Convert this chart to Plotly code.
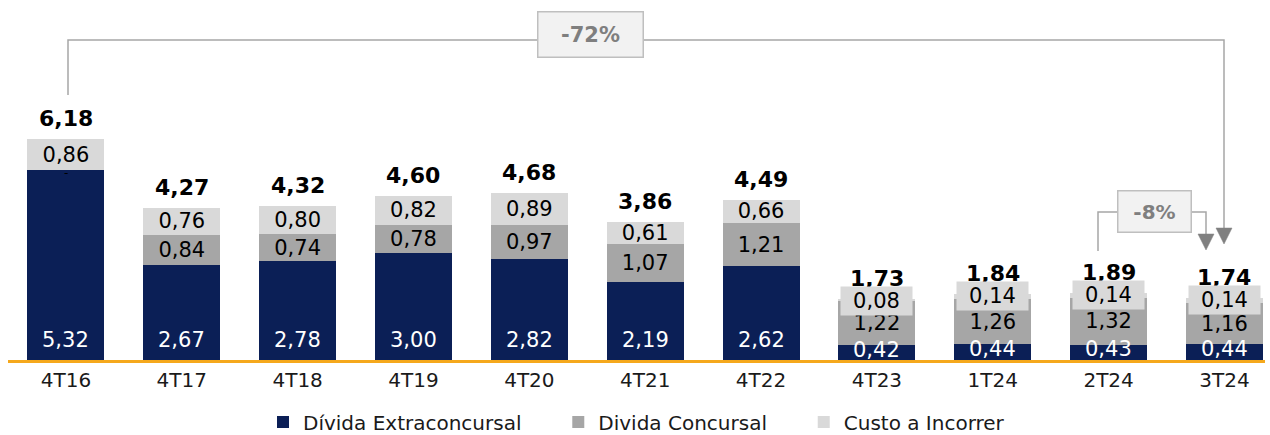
import plotly.graph_objects as go

categories = ["4T16", "4T17", "4T18", "4T19", "4T20", "4T21", "4T22", "4T23", "1T24", "2T24", "3T24"]
extra = [5.32, 2.67, 2.78, 3.00, 2.82, 2.19, 2.62, 0.42, 0.44, 0.43, 0.44]
concursal = [0.00, 0.84, 0.74, 0.78, 0.97, 1.07, 1.21, 1.22, 1.26, 1.32, 1.16]
custo = [0.86, 0.76, 0.80, 0.82, 0.89, 0.61, 0.66, 0.08, 0.14, 0.14, 0.14]
totals = [6.18, 4.27, 4.32, 4.60, 4.68, 3.86, 4.49, 1.73, 1.84, 1.89, 1.74]
series_names = ["Dívida Extraconcursal", "Divida Concursal", "Custo a Incorrer"]
change_labels = ["-72%", "-8%"]

NAVY = "#0b1f56"
GRAY = "#a6a6a6"
LIGHT = "#d9d9d9"
FONT = "DejaVu Sans"
LS = 21
PAD = "\u00a0" * 5

def fmt(v):
    return f"{v:.2f}".replace(".", ",")

W, H = 1270, 435
ML, MR, MT, MB = 8, 5, 0, 75
XR = [-0.5, 10.35]
YR = [0, 360 / 35.7]
pxx = (W - ML - MR) / (XR[1] - XR[0])
pxy = (H - MT - MB) / (YR[1] - YR[0])

def X(px):
    return XR[0] + (px - ML) / pxx

def Y(py):
    return YR[0] + (H - MB - py) / pxy

idx = list(range(len(categories)))

fig = go.Figure()
fig.add_trace(go.Bar(
    x=idx, y=extra, name=series_names[0] + PAD, marker=dict(color=NAVY, line=dict(width=0)),
    hoverinfo="skip"))
fig.add_trace(go.Bar(
    x=idx, y=concursal, name=series_names[1] + PAD, marker=dict(color=GRAY, line=dict(width=0)),
    text=[fmt(v) if v > 0 else "" for v in concursal], textposition="inside", insidetextanchor="middle",
    textfont=dict(color="black", size=LS, family=FONT), cliponaxis=False,
    hoverinfo="skip"))
fig.add_trace(go.Bar(
    x=idx, y=custo, name=series_names[2], marker=dict(color=LIGHT, line=dict(width=0)),
    text=[fmt(v) if v >= 0.3 else "" for v in custo], textposition="inside", insidetextanchor="middle",
    textfont=dict(color="black", size=LS, family=FONT), cliponaxis=False,
    hoverinfo="skip"))

annotations = []
for i in idx:
    top = extra[i] + concursal[i] + custo[i]
    if extra[i] >= 0.8:
        annotations.append(dict(x=i, y=0, text=fmt(extra[i]), showarrow=False, yanchor="bottom",
                                yshift=6, font=dict(size=LS, color="white", family=FONT)))
    else:
        annotations.append(dict(x=i, y=extra[i] / 2, text=fmt(extra[i]), showarrow=False,
                                yanchor="middle", yshift=3, font=dict(size=LS, color="white", family=FONT)))
    annotations.append(dict(x=i, y=top, text=f"<b>{fmt(totals[i])}</b>", showarrow=False,
                            yanchor="bottom", yshift=6, font=dict(size=22, color="black", family=FONT)))
    if custo[i] < 0.3:
        annotations.append(dict(x=i, y=top, text=fmt(custo[i]), showarrow=False, yanchor="middle",
                                yshift=-2, width=69, height=26, bgcolor=LIGHT,
                                font=dict(size=LS, color="black", family=FONT)))
    if concursal[i] == 0:
        annotations.append(dict(x=i, y=extra[i], text="-", showarrow=False, yanchor="middle",
                                yshift=-3, font=dict(size=12, color="black", family=FONT)))

annotations.append(dict(x=X(590), y=Y(34.5), text=f"<b>{change_labels[0]}</b>", showarrow=False,
                        width=102, height=42, bgcolor="#f2f2f2", bordercolor="#bfbfbf", borderwidth=1.5,
                        font=dict(size=21, color="#7f7f7f", family=FONT)))
annotations.append(dict(x=X(1154), y=Y(211.5), text=f"<b>{change_labels[1]}</b>", showarrow=False,
                        width=70, height=38, bgcolor="#f2f2f2", bordercolor="#bfbfbf", borderwidth=1.5,
                        font=dict(size=20, color="#7f7f7f", family=FONT)))

LC = "#a6a6a6"
AC = "#808080"
shapes = [
    dict(type="path", xref="x", yref="y",
         path=f"M {X(68)},{Y(95)} L {X(68)},{Y(40)} L {X(1224)},{Y(40)} L {X(1224)},{Y(230)}",
         line=dict(color=LC, width=1.5)),
    dict(type="path", xref="x", yref="y",
         path=f"M {X(1216)},{Y(228)} L {X(1232)},{Y(228)} L {X(1224)},{Y(244)} Z",
         fillcolor=AC, line=dict(color=AC, width=0.5)),
    dict(type="path", xref="x", yref="y",
         path=f"M {X(1098)},{Y(251)} L {X(1098)},{Y(212)} L {X(1206)},{Y(212)} L {X(1206)},{Y(236)}",
         line=dict(color=LC, width=1.5)),
    dict(type="path", xref="x", yref="y",
         path=f"M {X(1198)},{Y(234)} L {X(1214)},{Y(234)} L {X(1206)},{Y(250)} Z",
         fillcolor=AC, line=dict(color=AC, width=0.5)),
]

fig.update_layout(
    width=W, height=H, barmode="stack", bargap=0.335,
    margin=dict(l=ML, r=MR, t=MT, b=MB, autoexpand=False),
    paper_bgcolor="white", plot_bgcolor="white",
    font=dict(family=FONT, color="black"),
    uniformtext=dict(minsize=LS, mode="show"),
    xaxis=dict(range=XR, tickmode="array", tickvals=idx, ticktext=categories, automargin=False,
               showline=True, linecolor="#f5a81c", linewidth=3, showgrid=False, zeroline=False,
               ticks="", tickfont=dict(size=20, color="#1a1a1a", family=FONT)),
    yaxis=dict(range=YR, visible=False, showgrid=False, zeroline=False, automargin=False),
    legend=dict(orientation="h", x=0.5, xanchor="center", y=-0.172, yanchor="middle",
                font=dict(size=20, color="#1a1a1a", family=FONT), traceorder="normal"),
    showlegend=True,
    annotations=annotations, shapes=shapes,
)

fig.write_html("out.html", config={"displayModeBar": False},
               post_script="document.body.style.margin='0';document.body.style.overflow='hidden';")
